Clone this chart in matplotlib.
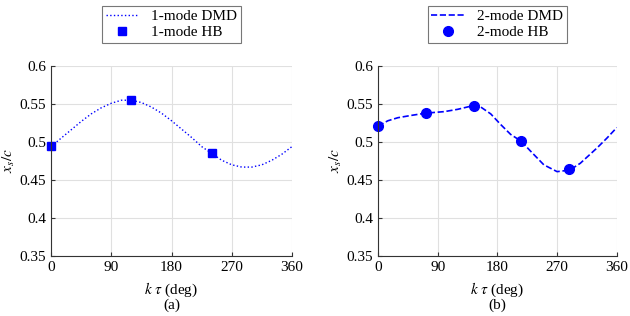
import matplotlib.pyplot as plt

plt.rcParams['font.family'] = 'Liberation Serif'
plt.rcParams['mathtext.fontset'] = 'stix'

# 1-mode DMD curve
deg1 = [0, 15, 30, 45, 60, 75, 90, 105, 120, 135, 150, 165, 180,
        195, 210, 225, 240, 255, 270, 285, 300, 315, 330, 345, 360]
dmd1 = [0.494, 0.505, 0.516, 0.527, 0.537, 0.545, 0.551, 0.555, 0.555, 0.552, 0.546, 0.538, 0.528,
        0.517, 0.506, 0.494, 0.485, 0.476, 0.470, 0.467, 0.467, 0.470, 0.476, 0.484, 0.494]
hb1_deg = [0, 120, 240]
hb1 = [0.495, 0.555, 0.485]

# 2-mode DMD curve
deg2 = [0, 15, 30, 50, 72, 100, 120, 144, 155, 170, 185, 200, 216,
        230, 250, 270, 289, 305, 330, 345, 360]
dmd2 = [0.521, 0.528, 0.532, 0.535, 0.538, 0.540, 0.543, 0.548, 0.546, 0.537, 0.523, 0.510, 0.501,
        0.488, 0.470, 0.461, 0.463, 0.472, 0.492, 0.505, 0.519]
hb2_deg = [0, 72, 144, 216, 288]
hb2 = [0.521, 0.538, 0.548, 0.501, 0.464]

fig = plt.figure(figsize=(6.3, 3.16), dpi=100)
ax1 = fig.add_axes([0.081, 0.19, 0.3825, 0.601])
ax2 = fig.add_axes([0.600, 0.19, 0.379, 0.601])

ax1.plot(deg1, dmd1, ':', color='blue', lw=1.0, label='1-mode DMD')
ax1.plot(hb1_deg, hb1, 's', color='blue', ms=6, ls='none', label='1-mode HB', clip_on=False)
ax2.plot(deg2, dmd2, '--', color='blue', lw=1.2, label='2-mode DMD')
ax2.plot(hb2_deg, hb2, 'o', color='blue', ms=7, ls='none', label='2-mode HB', clip_on=False)

for ax, tag in [(ax1, '(a)'), (ax2, '(b)')]:
    ax.set_xlim(0, 360)
    ax.set_ylim(0.35, 0.6)
    ax.set_xticks([0, 90, 180, 270, 360])
    ax.set_yticks([0.35, 0.4, 0.45, 0.5, 0.55, 0.6])
    ax.set_yticklabels(['0.35', '0.4', '0.45', '0.5', '0.55', '0.6'])
    ax.grid(True, color='#e0e0e0', lw=0.8)
    ax.set_axisbelow(True)
    for s in ['top', 'right']:
        ax.spines[s].set_visible(False)
    for s in ['left', 'bottom']:
        ax.spines[s].set_color('#333333')
        ax.spines[s].set_linewidth(0.8)
    ax.tick_params(direction='in', length=3, labelsize=11, colors='#333333', labelcolor='black')
    ax.set_xlabel(r'$k\ \tau$ (deg)', fontsize=11, labelpad=5)
    ax.set_ylabel(r'$x_s/c$', fontsize=11, labelpad=2)
    ax.text(0.5, -0.26, tag, transform=ax.transAxes, ha='center', va='center', fontsize=11)
    leg = ax.legend(loc='lower center', bbox_to_anchor=(0.5, 1.12), fontsize=11,
                    frameon=True, fancybox=False, edgecolor='#555555', borderpad=0.25,
                    handlelength=2.2, labelspacing=0.15, borderaxespad=0)
    leg.get_frame().set_linewidth(0.8)

fig.savefig('out.png', dpi=100)
